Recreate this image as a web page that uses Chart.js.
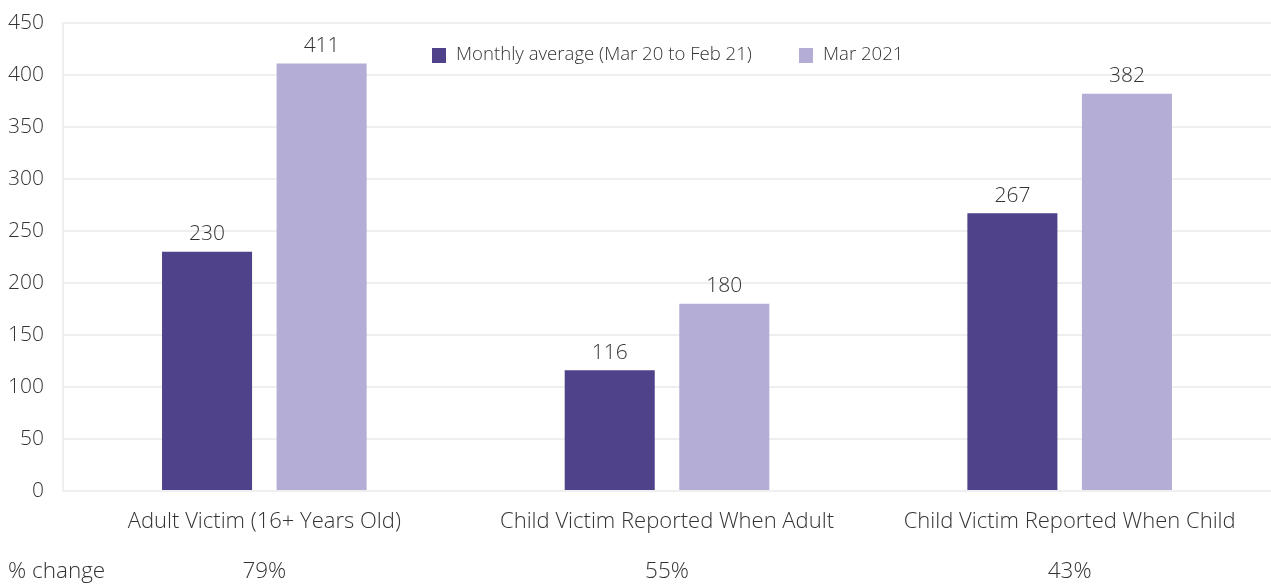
<!DOCTYPE html>
<html>
<head>
<meta charset="utf-8">
<script src="https://cdn.jsdelivr.net/npm/chart.js@4/dist/chart.umd.min.js"></script>
<style>
html,body{margin:0;padding:0;background:#fff;overflow:hidden;}
#wrap{width:1271px;height:585px;position:relative;}
canvas{display:block;}
</style>
</head>
<body>
<div id="wrap"><canvas id="c" width="1271" height="585"></canvas></div>
<script>
const categories = ["Adult Victim (16+ Years Old)", "Child Victim Reported When Adult", "Child Victim Reported When Child"];
const seriesNames = ["Monthly average (Mar 20 to Feb 21)", "Mar 2021"];
const monthlyAverage = [230, 116, 267];
const mar2021 = [411, 180, 382];
const pctChange = ["79%", "55%", "43%"];
const pctLabel = "% change";
const yTicks = [0, 50, 100, 150, 200, 250, 300, 350, 400, 450];

const FONT = "'Open Sans', sans-serif";
const TXT = "#333333";
const colors = ["#4F418A", "#B4ADD5"];

const valueLabels = {
  id: "valueLabels",
  afterDatasetsDraw(chart) {
    const ctx = chart.ctx;
    ctx.save();
    ctx.font = "300 21px " + FONT;
    ctx.fillStyle = TXT;
    ctx.textAlign = "center";
    ctx.textBaseline = "bottom";
    chart.data.datasets.forEach((ds, i) => {
      chart.getDatasetMeta(i).data.forEach((bar, j) => {
        ctx.fillText(String(ds.data[j]), bar.x, bar.y - 7);
      });
    });
    ctx.restore();
  }
};

const customLegend = {
  id: "customLegend",
  afterDraw(chart) {
    const ctx = chart.ctx;
    ctx.save();
    ctx.font = "300 18.6px " + FONT;
    ctx.textBaseline = "middle";
    ctx.textAlign = "left";
    const starts = [432, 799];
    const cy = 55;
    chart.data.datasets.forEach((ds, i) => {
      const x = starts[i];
      ctx.fillStyle = ds.backgroundColor;
      ctx.fillRect(x, cy - 7, 14, 15);
      ctx.fillStyle = TXT;
      ctx.fillText(ds.label, x + 24, cy);
    });
    ctx.restore();
  }
};

const pctRow = {
  id: "pctRow",
  afterDraw(chart) {
    const ctx = chart.ctx;
    const xs = chart.scales.x;
    ctx.save();
    ctx.font = "300 22.5px " + FONT;
    ctx.fillStyle = TXT;
    ctx.textBaseline = "middle";
    ctx.textAlign = "left";
    ctx.fillText(pctLabel, 8, 572);
    ctx.textAlign = "center";
    pctChange.forEach((p, i) => {
      ctx.fillText(p, xs.getPixelForValue(i), 572);
    });
    ctx.restore();
  }
};

function noPad(s) {
  s.paddingTop = 0; s.paddingBottom = 0; s.paddingLeft = 0; s.paddingRight = 0;
}

new Chart(document.getElementById("c"), {
  type: "bar",
  data: {
    labels: categories,
    datasets: [
      { label: seriesNames[0], data: monthlyAverage, backgroundColor: colors[0] },
      { label: seriesNames[1], data: mar2021, backgroundColor: colors[1] }
    ]
  },
  options: {
    responsive: false,
    animation: false,
    layout: { padding: { top: 23, right: 0, left: 0, bottom: 40 } },
    plugins: { legend: { display: false }, tooltip: { enabled: false } },
    datasets: { bar: { categoryPercentage: 0.569, barPercentage: 0.786 } },
    scales: {
      x: {
        grid: { display: false, drawTicks: false },
        border: { display: true, color: "#EFEFEF", width: 2 },
        ticks: { font: { family: FONT, size: 22, weight: 300 }, color: TXT, padding: 18, maxRotation: 0 },
        afterFit(s) { s.height = 54; noPad(s); }
      },
      y: {
        min: 0, max: 450,
        afterBuildTicks(s) { s.ticks = yTicks.map(v => ({ value: v })); },
        grid: { color: "#EFEFEF", lineWidth: 2, drawTicks: false },
        border: { display: true, color: "#EFEFEF", width: 2 },
        ticks: { font: { family: FONT, size: 21, weight: 300 }, color: TXT, padding: 19 },
        afterFit(s) { s.width = 63; noPad(s); }
      }
    }
  },
  plugins: [valueLabels, customLegend, pctRow]
});
</script>
</body>
</html>
